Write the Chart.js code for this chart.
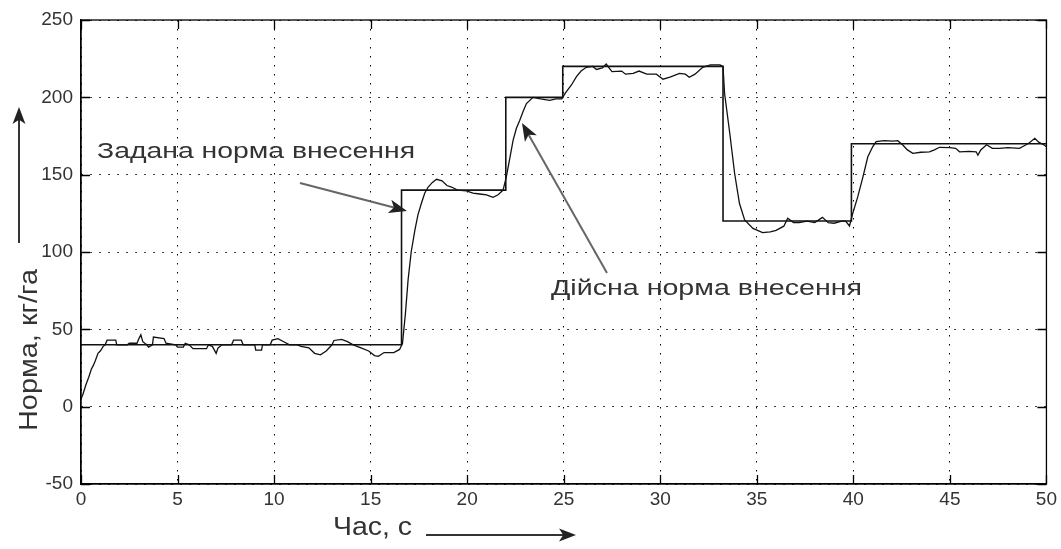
<!DOCTYPE html>
<html>
<head>
<meta charset="utf-8">
<script src="https://cdn.jsdelivr.net/npm/chart.js@4/dist/chart.umd.min.js"></script>
<style>
  html, body { margin: 0; padding: 0; background: #fff; }
  #wrap { width: 1061px; height: 549px; }
</style>
</head>
<body>
<div id="wrap"><canvas id="chart" width="1061" height="549"></canvas></div>
<script>
// задана норма (ступінчаста)
const setX = [0, 16.6, 22.0, 24.95, 33.25, 39.9, 50];
const setY = [40, 140, 200, 220, 120, 170, 170];

// дійсна норма
const actX = [0, 0.1, 0.25, 0.4, 0.53, 0.65, 0.75, 0.88, 1.0, 1.15, 1.25, 1.35, 1.8, 1.85, 2.4, 2.5, 2.9, 3.0, 3.1, 3.2, 3.4, 3.5, 3.7, 3.75, 4.3, 4.4, 4.9, 5.0, 5.3, 5.4, 5.6, 5.8, 6.5, 6.6, 6.8, 7.0, 7.1, 7.3, 7.8, 7.9, 8.3, 8.4, 9.0, 9.05, 9.35, 9.4, 9.8, 9.9, 10.2, 10.5, 10.8, 11.2, 11.4, 11.8, 12.1, 12.4, 12.7, 13.0, 13.1, 13.5, 13.8, 14.1, 14.5, 14.9, 15.2, 15.4, 15.7, 16.2, 16.5, 16.65,
  16.8, 16.94, 17.1, 17.29, 17.45, 17.63, 17.8, 17.98, 18.2, 18.41, 18.7, 18.95, 19.19, 19.5, 19.96, 20.3, 20.65, 21.0, 21.34, 21.6, 21.86,
  22.03, 22.2, 22.38, 22.55, 22.72, 22.9, 23.07, 23.41, 23.8, 24.27, 24.6, 24.9,
  25.1, 25.4, 25.66, 25.9, 26.17, 26.5, 26.7, 27.0, 27.2, 27.35, 27.5, 28.0, 28.2, 28.6, 28.9, 29.3, 29.8, 30.14, 30.5, 31.0, 31.3, 31.5, 31.8, 32.2, 32.6, 33.1, 33.25,
  33.33, 33.6, 33.85, 34.1, 34.37, 34.8, 35.3, 35.7, 36.0, 36.4, 36.6, 36.9, 37.2, 37.6, 38.0, 38.4, 38.7, 39.0, 39.4, 39.6, 39.8,
  39.97, 40.23, 40.5, 40.75, 41.0, 41.18, 41.6, 42.05, 42.3, 42.56, 42.8, 43.08, 43.5, 43.94, 44.2, 44.46, 45.0, 45.3, 45.5, 46.0, 46.36, 46.45, 46.6, 46.9, 47.2, 47.57, 48.0, 48.6, 48.9, 49.1, 49.4, 49.6, 49.9, 50];
const actY = [5, 8, 14, 19, 24, 27, 30, 34.5, 36, 39, 40, 43, 43, 40, 40, 41, 41, 44, 46.5, 42, 40, 38.5, 40, 45, 44, 41, 40, 38.5, 38.5, 41, 40, 37.5, 37.5, 40, 39, 34.5, 38, 40, 40, 43, 43, 40, 40, 36.5, 36.5, 40, 40, 43, 44, 42, 40, 40, 39, 38, 34.5, 33.5, 36, 40, 42.8, 43.5, 42, 40, 38, 36, 33, 32.5, 35, 35, 37, 41,
  60, 82, 100, 114, 124, 131.5, 138, 142, 145, 147, 146, 143, 142, 140, 139.5, 138, 137.5, 137, 135.4, 137, 140,
  148.7, 160, 172.4, 180, 185, 191, 196, 200, 199, 198, 199, 199,
  203, 208, 213.4, 217, 219.4, 220, 218, 219, 221.5, 219, 216.6, 217, 215, 215.5, 217, 215, 215, 211.7, 213, 215.5, 215, 213, 215, 219.4, 221, 221, 219.8,
  202.6, 176.8, 150.9, 131.5, 120.7, 115.3, 112.5, 113, 114, 116.7, 121.8, 119, 119, 120, 119, 122.4, 119, 118.6, 120, 120, 116.8,
  125, 135.8, 148.7, 161.6, 168, 171.3, 172, 171.7, 172, 169.2, 166, 163.8, 164.5, 164.8, 166, 167.7, 167.5, 167, 164.8, 165, 164.8, 162.6, 166, 169.3, 167, 167, 167.5, 167, 169, 170.5, 173.5, 171, 169, 168];

const xTicks = [0, 5, 10, 15, 20, 25, 30, 35, 40, 45, 50];
const yTicks = [-50, 0, 50, 100, 150, 200, 250];

const yTitle = 'Норма, кг/га';
const xTitle = 'Час, с';
const setLabel = 'Задана норма внесення';
const actLabel = 'Дійсна норма внесення';

const FONT = '"Liberation Sans", Arial, sans-serif';
const TXT = '#333';

function arrow(ctx, x1, y1, x2, y2, color, head) {
    const a = Math.atan2(y2 - y1, x2 - x1);
    ctx.save();
    ctx.strokeStyle = color;
    ctx.lineWidth = 2;
    ctx.beginPath();
    ctx.moveTo(x1, y1);
    ctx.lineTo(x2 - Math.cos(a) * head * 0.7, y2 - Math.sin(a) * head * 0.7);
    ctx.stroke();
    ctx.fillStyle = '#222';
    ctx.beginPath();
    ctx.moveTo(x2, y2);
    ctx.lineTo(x2 - head * Math.cos(a) + head * 0.38 * Math.sin(a), y2 - head * Math.sin(a) - head * 0.38 * Math.cos(a));
    ctx.lineTo(x2 - head * 0.75 * Math.cos(a), y2 - head * 0.75 * Math.sin(a));
    ctx.lineTo(x2 - head * Math.cos(a) - head * 0.38 * Math.sin(a), y2 - head * Math.sin(a) + head * 0.38 * Math.cos(a));
    ctx.closePath();
    ctx.fill();
    ctx.restore();
}

// текст, розтягнутий до заданої ширини
function wideText(ctx, text, x, y, width) {
    const w = ctx.measureText(text).width;
    ctx.save();
    ctx.translate(x, y);
    ctx.scale(width / w, 1);
    ctx.fillText(text, 0, 0);
    ctx.restore();
}

const decor = {
    id: 'decor',
    afterDatasetsDraw(chart) {
        const ctx = chart.ctx;
        const xs = chart.scales.x, ys = chart.scales.y;
        const a = chart.chartArea;
        ctx.save();
        // рамка
        ctx.strokeStyle = '#000';
        ctx.lineWidth = 1.3;
        ctx.strokeRect(a.left, a.top, a.right - a.left, a.bottom - a.top);
        // внутрішні засічки
        ctx.beginPath();
        xTicks.forEach(v => {
            const px = Math.round(xs.getPixelForValue(v)) + 0.5;
            ctx.moveTo(px, a.bottom); ctx.lineTo(px, a.bottom - 9);
            ctx.moveTo(px, a.top); ctx.lineTo(px, a.top + 9);
        });
        yTicks.forEach(v => {
            const py = Math.round(ys.getPixelForValue(v)) + 0.5;
            ctx.moveTo(a.left, py); ctx.lineTo(a.left + 9, py);
            ctx.moveTo(a.right, py); ctx.lineTo(a.right - 9, py);
        });
        ctx.stroke();

        // підписи
        ctx.fillStyle = TXT;
        ctx.font = '22px ' + FONT;
        ctx.textBaseline = 'middle';
        ctx.textAlign = 'left';
        wideText(ctx, setLabel, 97, 152, 318);
        wideText(ctx, actLabel, 551, 289, 311);
        arrow(ctx, 300, 183, 407, 211, '#666', 18);
        arrow(ctx, 607, 273, 522, 123, '#666', 18);

        // назви осей
        ctx.font = '25px ' + FONT;
        wideText(ctx, xTitle, 333, 528, 79);
        arrow(ctx, 426, 535, 576, 535, '#333', 17);
        ctx.save();
        ctx.translate(30, 431);
        ctx.rotate(-Math.PI / 2);
        ctx.font = '26px ' + FONT;
        wideText(ctx, yTitle, 0, 0, 162);
        ctx.restore();
        arrow(ctx, 19, 243, 19, 107, '#333', 17);
        ctx.restore();
    }
};

const ctx = document.getElementById('chart').getContext('2d');
const chart = new Chart(ctx, {
    type: 'line',
    data: {
        datasets: [{
            label: setLabel,
            data: setX.map((x, i) => ({x: x, y: setY[i]})),
            stepped: 'before',
            borderColor: '#111',
            borderWidth: 1.6,
            pointRadius: 0,
            fill: false
        }, {
            label: actLabel,
            data: actX.map((x, i) => ({x: x, y: actY[i]})),
            borderColor: '#111',
            borderWidth: 1.3,
            pointRadius: 0,
            tension: 0,
            fill: false
        }]
    },
    options: {
        responsive: false,
        animation: false,
        layout: {padding: {top: 20, right: 14, left: 0, bottom: 0}},
        plugins: {legend: {display: false}, tooltip: {enabled: false}},
        scales: {
            x: {
                type: 'linear', min: 0, max: 50,
                afterBuildTicks: s => { s.ticks = xTicks.map(v => ({value: v})); },
                afterFit: s => { s.height = 65; },
                grid: {color: '#000', lineWidth: 1, drawTicks: false},
                border: {display: true, color: '#000', width: 1.3, dash: [1.5, 7.5]},
                ticks: {color: TXT, font: {family: FONT, size: 19}, padding: 4, maxRotation: 0}
            },
            y: {
                type: 'linear', min: -50, max: 250,
                afterBuildTicks: s => { s.ticks = yTicks.map(v => ({value: v})); },
                afterFit: s => { s.width = 81; },
                grid: {color: '#000', lineWidth: 1, drawTicks: false},
                border: {display: true, color: '#000', width: 1.3, dash: [1.5, 7.5]},
                ticks: {color: TXT, font: {family: FONT, size: 19}, padding: 8}
            }
        }
    },
    plugins: [decor]
});
</script>
</body>
</html>
